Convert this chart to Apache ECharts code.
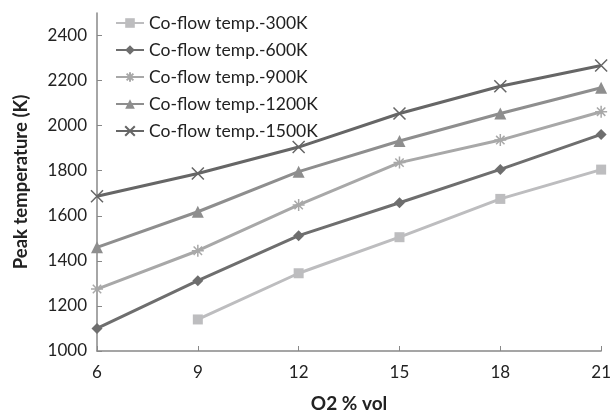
<!DOCTYPE html>
<html>
<head>
<meta charset="utf-8">
<script src="https://cdn.jsdelivr.net/npm/echarts@6/dist/echarts.min.js"></script>
<style>
  html, body { margin: 0; padding: 0; background: #fff; }
  #content { width: 614px; height: 418px; }
</style>
</head>
<body>
<div id="content"></div>
<script>
// O2 % vol on x axis
const o2 = [6, 9, 12, 15, 18, 21]

// peak temperature (K) per co-flow temperature, null = no point
const t300 = [null, 1140, 1345, 1505, 1675, 1805]
const t600 = [1100, 1312, 1512, 1658, 1806, 1961]
const t900 = [1275, 1445, 1648, 1836, 1936, 2062]
const t1200 = [1460, 1618, 1796, 1932, 2054, 2168]
const t1500 = [1687, 1788, 1905, 2054, 2175, 2267]

const names = ['Co-flow temp.-300K', 'Co-flow temp.-600K', 'Co-flow temp.-900K', 'Co-flow temp.-1200K', 'Co-flow temp.-1500K']
const colors = ['#bdbdbf', '#6e6e6e', '#a8a8a8', '#8e8e8e', '#666666']

const starPath = 'path://M0,5L10,5M5,0L5,10M1.5,1.5L8.5,8.5M8.5,1.5L1.5,8.5'
const crossPath = 'path://M0,0L10,10M10,0L0,10'

function pairs(vals) {
  return o2.map((x, i) => [x, vals[i]]).filter(p => p[1] !== null)
}

function makeSeries(name, vals, color, symbol, size, stroke) {
  return {
    name: name,
    type: 'line',
    data: pairs(vals),
    symbol: symbol,
    symbolSize: size,
    showAllSymbol: true,
    lineStyle: { color: color, width: 3 },
    itemStyle: { color: color, borderColor: color, borderWidth: stroke ? 1.5 : 0 }
  }
}

const myChart = echarts.init(document.querySelector('#content'))
myChart.setOption({
  animation: false,
  textStyle: { fontFamily: 'Lato' },
  grid: { left: 97, right: 12, top: 13, bottom: 66, containLabel: false },
  legend: {
    orient: 'vertical',
    left: 110,
    top: 9,
    itemWidth: 28,
    itemHeight: 12,
    itemGap: 9,
    textStyle: { fontSize: 17.5, color: '#222', fontFamily: 'Lato' },
    data: names
  },
  xAxis: {
    type: 'value',
    min: 6,
    max: 21,
    interval: 3,
    name: 'O2 % vol',
    nameLocation: 'middle',
    nameGap: 43,
    nameTextStyle: { fontSize: 19, fontWeight: 'bold', color: '#222' },
    axisLine: { lineStyle: { color: '#888', width: 1.5 } },
    axisTick: { inside: true, length: 5, lineStyle: { color: '#888' } },
    axisLabel: { fontSize: 17, color: '#222', margin: 13 },
    splitLine: { show: false }
  },
  yAxis: {
    type: 'value',
    min: 1000,
    max: 2500,
    interval: 200,
    name: 'Peak temperature (K)',
    nameLocation: 'middle',
    nameGap: 66,
    nameTextStyle: { fontSize: 18.5, fontWeight: 'bold', color: '#222' },
    axisLine: { show: true, lineStyle: { color: '#888', width: 1.5 } },
    axisTick: { show: true, inside: true, length: 5, lineStyle: { color: '#888' } },
    axisLabel: { fontSize: 17, color: '#222', margin: 10, showMaxLabel: false, formatter: v => String(v) },
    splitLine: { show: false }
  },
  series: [
    makeSeries(names[0], t300, colors[0], 'rect', 10, false),
    makeSeries(names[1], t600, colors[1], 'diamond', 11, false),
    makeSeries(names[2], t900, colors[2], starPath, 12, true),
    makeSeries(names[3], t1200, colors[3], 'triangle', 12, false),
    makeSeries(names[4], t1500, colors[4], crossPath, 12, true)
  ]
})
</script>
</body>
</html>
